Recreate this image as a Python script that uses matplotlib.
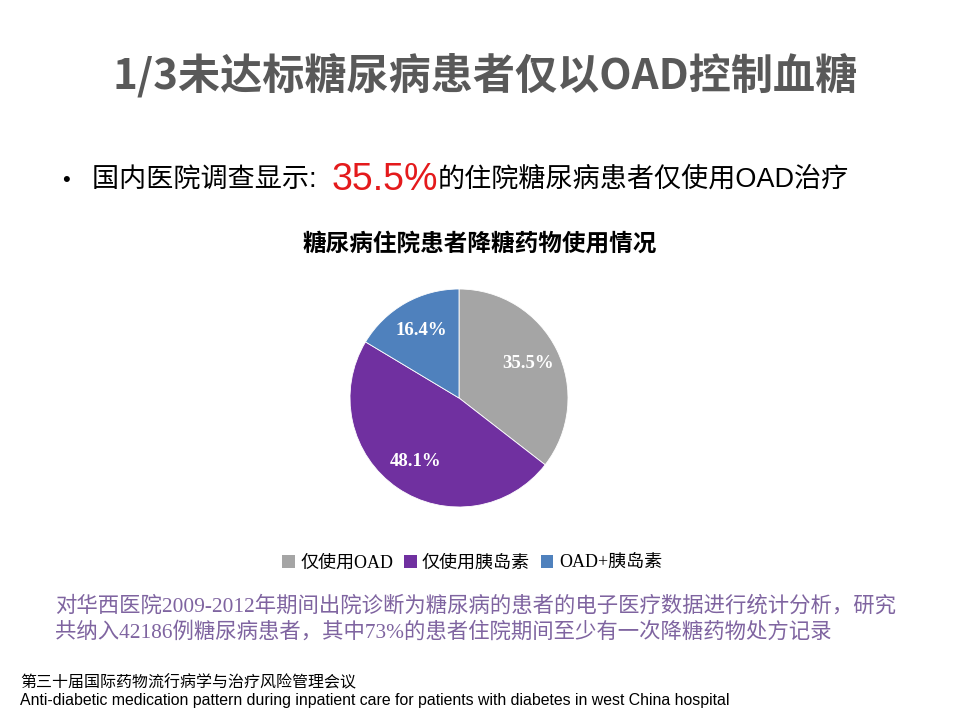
"""
Slide: share of inpatients with diabetes by anti-diabetic treatment type
"""

import matplotlib
matplotlib.use('Agg')
import matplotlib.pyplot as plt
from matplotlib.patches import Patch
from matplotlib.font_manager import FontProperties

# data
labels = ['仅使用OAD', '仅使用胰岛素', 'OAD+胰岛素']
shares = [35.5, 48.1, 16.4]
slice_colors = ['#A5A5A5', '#7030A0', '#4F81BD']

title = '1/3未达标糖尿病患者仅以OAD控制血糖'
bullet_parts = ['国内医院调查显示:  ', '35.5%', '的住院糖尿病患者仅使用OAD治疗']
chart_title = '糖尿病住院患者降糖药物使用情况'
note_lines = ['对华西医院2009-2012年期间出院诊断为糖尿病的患者的电子医疗数据进行统计分析，研究',
              '共纳入42186例糖尿病患者，其中73%的患者住院期间至少有一次降糖药物处方记录']
footer_cn = '第三十届国际药物流行病学与治疗风险管理会议'
footer_en = 'Anti-diabetic medication pattern during inpatient care for patients with diabetes in west China hospital'

CJK = 'Noto Sans CJK SC'
SANS = ['Liberation Sans', CJK]
SERIF = ['Liberation Serif', CJK]

W, H = 960, 720
fig = plt.figure(figsize=(9.6, 7.2), dpi=100)
fig.patch.set_facecolor('white')


def fx(px):
    return px / W


def fy(py):
    return 1 - py / H


# main title
fig.text(fx(485), fy(75), title, family=[CJK], fontsize=30.3, fontweight='bold',
         color='#595959', ha='center', va='center')

# bullet line, pieces placed one after another
fig.text(fx(62), fy(180), '•', family=SANS, fontsize=16, color='black',
         ha='left', va='center')
renderer = fig.canvas.get_renderer()
x = fx(92)
sizes = [19.5, 27, 19.5]
cols = ['black', '#E41A1C', 'black']
for part, sz, c in zip(bullet_parts, sizes, cols):
    t = fig.text(x, fy(180), part, family=SANS, fontsize=sz, color=c,
                 ha='left', va='center')
    bb = t.get_window_extent(renderer)
    x = bb.x1 / W

# chart title
fig.text(fx(480), fy(244), chart_title, family=[CJK], fontsize=17,
         fontweight='bold', color='black', ha='center', va='center')

# pie
r = 109
cx, cy = 459, 398
ax = fig.add_axes([fx(cx - r), fy(cy + r), 2 * r / W, 2 * r / H])
wedges, texts, autotexts = ax.pie(shares, colors=slice_colors, startangle=90,
                                  counterclock=False, radius=1,
                                  autopct='%.1f%%', pctdistance=0.71,
                                  wedgeprops={'edgecolor': 'white', 'linewidth': 0.6})
for at in autotexts:
    at.set_color('white')
    at.set_family(SERIF)
    at.set_fontweight('bold')
    at.set_fontsize(13.5)
ax.set_xlim(-1, 1)
ax.set_ylim(-1, 1)
ax.set_aspect('equal')
ax.axis('off')

# legend
handles = [Patch(facecolor=c, edgecolor='none') for c in slice_colors]
fig.legend(handles, labels, loc='center', bbox_to_anchor=(fx(472), fy(563)),
           ncol=3, frameon=False, handlelength=0.7, handleheight=0.7,
           handletextpad=0.3, columnspacing=0.6,
           prop=FontProperties(family=SERIF, size=13))

# note under chart
for i, line in enumerate(note_lines):
    fig.text(fx(55), fy(606 + 26 * i), line, family=SERIF, fontsize=15.4,
             color='#7F64A0', ha='left', va='center')

# footer
fig.text(fx(20), fy(683), footer_cn, family=[CJK], fontsize=11.5,
         color='black', ha='left', va='center')
fig.text(fx(20), fy(701), footer_en, family=SANS, fontsize=11.4,
         color='black', ha='left', va='center')

fig.savefig('out.png', dpi=100, facecolor='white')
